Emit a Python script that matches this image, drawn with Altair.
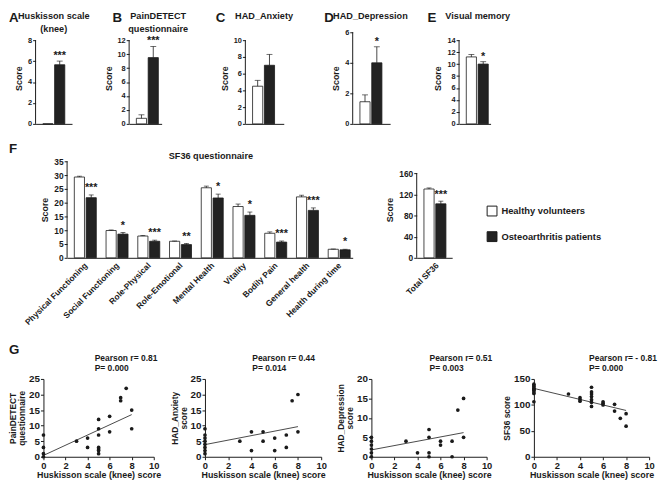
import altair as alt
import pandas as pd

FONT = "Liberation Sans"
INK = "#1a1a1a"
BAR_DARK = "#222222"

groups = ["Healthy volunteers", "Osteoarthritis patients"]
group_fills = ["#ffffff", BAR_DARK]

# ---------------- Panels A-E ----------------
top_letters = ["A", "B", "C", "D", "E"]
top_titles = ["Huskisson scale\n(knee)", "PainDETECT\nquestionnaire", "HAD_Anxiety", "HAD_Depression", "Visual memory"]
top_healthy = [0.0, 0.8, 4.5, 1.45, 11.2]
top_healthy_err = [0.0, 0.5, 0.7, 0.45, 0.4]
top_oa = [5.65, 9.5, 7.0, 4.0, 10.0]
top_oa_err = [0.35, 1.6, 1.3, 1.05, 0.4]
top_sig = ["***", "***", "", "*", "*"]
top_ymax = [8, 12, 10, 6, 14]
top_ystep = [2, 2, 2, 2, 2]

# ---------------- Panel F ----------------
sf36_domains = ["Physical Functioning", "Social Functioning", "Role-Physical", "Role-Emotional",
                "Mental Health", "Vitality", "Bodily Pain", "General health", "Health during time"]
sf36_healthy = [29.3, 9.9, 7.9, 6.0, 25.4, 18.6, 8.9, 22.1, 3.1]
sf36_healthy_err = [0.3, 0.2, 0.2, 0.1, 0.6, 0.9, 0.5, 0.6, 0.1]
sf36_oa = [21.8, 8.6, 6.0, 4.8, 21.7, 15.4, 5.7, 17.2, 2.9]
sf36_oa_err = [1.0, 0.6, 0.4, 0.4, 1.4, 1.2, 0.4, 0.9, 0.2]
sf36_sig = ["***", "*", "***", "**", "*", "*", "***", "***", "*"]

total_cat = ["Total SF36"]
total_healthy = [130]
total_healthy_err = [2]
total_oa = [102]
total_oa_err = [5]
total_sig = ["***"]

# ---------------- Panel G (scatter) ----------------
husk_pain = [0, 0, 0, 0, 3, 4, 4, 5, 5, 5, 5, 5, 5, 5, 6, 6, 7, 7, 7.5, 8, 8]
pain = [0, 1, 3, 7, 5, 6, 3, 12, 9, 7, 3, 2.5, 2, 1, 13, 8, 19, 18, 22, 15, 9]
husk_anx = [0, 0, 0, 0, 0, 0, 0, 0, 3, 4, 4, 5, 5, 6, 6, 7, 7, 7.5, 8, 8]
anx = [9, 7, 6, 5, 4, 3, 2, 1, 5, 8, 2, 8, 5, 6, 2, 7, 3, 18, 20, 8]
husk_dep = [0, 0, 0, 0, 0, 0, 3, 4, 5, 5, 5, 5, 6, 6, 7, 7, 7.5, 8, 8]
dep = [5, 4, 3, 2, 1, 0, 4, 1, 7, 5, 1, 0, 4, 3, 4, 0, 12, 15, 5]
husk_sf = [0, 0, 0, 0, 0, 0, 0, 0, 0, 3, 4, 4, 4, 5, 5, 5, 5, 5, 5, 5, 6, 6, 6, 7, 7, 7.5, 8, 8]
sf_score = [140, 137, 135, 132, 130, 128, 125, 122, 106, 121, 114, 110, 107,
            134, 125, 121, 116, 110, 105, 97, 106, 103, 100, 101, 88, 74, 83, 59]
pearson_notes = ["Pearson r= 0.81\nP= 0.000", "Pearson r= 0.44\nP= 0.014",
                 "Pearson r= 0.51\nP= 0.003", "Pearson r= - 0.81\nP= 0.000"]


def bar_table(cats, healthy, healthy_err, oa, oa_err, sig):
    rows = []
    for i, c in enumerate(cats):
        rows.append(dict(cat=c, group=groups[0], value=healthy[i], err=healthy_err[i],
                         hi=healthy[i] + healthy_err[i], sig=""))
        rows.append(dict(cat=c, group=groups[1], value=oa[i], err=oa_err[i],
                         hi=oa[i] + oa_err[i], sig=sig[i]))
    return pd.DataFrame(rows)


def ax(**kw):
    base = dict(grid=False, domainColor=INK, domainWidth=1, tickColor=INK, tickWidth=1,
                labelColor=INK, titleColor=INK, labelFont=FONT, titleFont=FONT,
                labelFontWeight="bold", titleFontWeight="bold", labelOverlap=False)
    base.update(kw)
    return alt.Axis(**base)


def note(text, x, y, size, align="left", baseline="top", line_height=None):
    kw = dict(align=align, baseline=baseline, font=FONT, fontSize=size, fontWeight="bold",
              color=INK, lineBreak="\n")
    if line_height:
        kw["lineHeight"] = line_height
    return alt.Chart(pd.DataFrame({"t": [text]})).mark_text(**kw).encode(
        x=alt.value(x), y=alt.value(y), text="t:N")


def spacer(w, h):
    return alt.Chart(pd.DataFrame({"s": [0]})).mark_point(opacity=0, size=1).encode(
        x=alt.value(w / 2), y=alt.value(h / 2)).properties(width=w, height=h)


def bar_layers(df, ymax, ystep, xaxis, yaxis_kw, width, plot_h, axis_h, bar_step, off_inner,
               cap, star_dy, legend=None):
    off_outer = max((width / bar_step - 2 + off_inner) / 2, 0)
    top = ymax * plot_h / axis_h
    x = alt.X("cat:N", sort=None, title=None, axis=xaxis,
              scale=alt.Scale(paddingInner=0, paddingOuter=0))
    xo = alt.XOffset("group:N", sort=groups,
                     scale=alt.Scale(domain=groups, paddingInner=off_inner, paddingOuter=off_outer))
    yaxis = ax(values=list(range(0, ymax + 1, ystep)), title="Score", domain=False, **yaxis_kw)

    def Y(field):
        return alt.Y(field, scale=alt.Scale(domain=[0, top], nice=False, zero=True), axis=yaxis)

    base = alt.Chart(df)
    bars = base.mark_bar(stroke=INK, strokeWidth=0.8).encode(
        x=x, xOffset=xo, y=Y("value:Q"),
        fill=alt.Fill("group:N", sort=groups, scale=alt.Scale(domain=groups, range=group_fills),
                      legend=legend))
    errs = base.transform_filter("datum.err > 0")
    rules = errs.mark_rule(color=INK, strokeWidth=0.8).encode(
        x=x, xOffset=xo, y=Y("value:Q"), y2="hi:Q")
    caps = errs.mark_tick(color=INK, thickness=0.9, size=cap).encode(
        x=x, xOffset=xo, y=Y("hi:Q"))
    stars = base.transform_filter("datum.sig != ''").mark_text(
        baseline="bottom", dy=star_dy, font=FONT, fontSize=11, fontWeight="bold", color=INK
    ).encode(x=x, xOffset=xo, y=Y("hi:Q"), text="sig:N")
    # y-axis line drawn only up to the last tick value
    yline = alt.Chart(pd.DataFrame({"s": [0]})).mark_rule(color=INK, strokeWidth=1).encode(
        x=alt.value(0), y=alt.datum(0, axis=yaxis), y2=alt.datum(ymax))
    return [bars, rules, caps, stars, yline]


def row(cells):
    return alt.hconcat(*cells, spacing=0, bounds="flush").resolve_scale(fill="independent")


# ---------- row 1 ----------
ROW1_H = 93
row1_width = [37, 33, 39, 38, 32]
row1_axis_h = [85, 85, 85, 93, 85]
row1_gap = [58, 85, 70, 70]
row1_letter_x = [-27, -17, -30, -29, -32]
row1_title_x = [18.5, 29.5, 19, 18, 19]

top_yaxis = dict(labelFontSize=7.5, titleFontSize=9, tickSize=3, labelPadding=1, titlePadding=4)
hidden_x = ax(labels=False, ticks=False, title=None)

row1 = []
for i in range(5):
    df = bar_table([top_letters[i]], [top_healthy[i]], [top_healthy_err[i]], [top_oa[i]],
                   [top_oa_err[i]], [top_sig[i]])
    layers = bar_layers(df, top_ymax[i], top_ystep[i], hidden_x, top_yaxis, row1_width[i],
                        ROW1_H, row1_axis_h[i], 12, 0.14, 6, 0)
    layers.append(note(top_letters[i], row1_letter_x[i], -21, 13.5))
    layers.append(note(top_titles[i], row1_title_x[i], -20, 9.3, align="center", line_height=12.5))
    row1.append(alt.layer(*layers).properties(width=row1_width[i], height=ROW1_H))
    if i < 4:
        row1.append(spacer(row1_gap[i], ROW1_H))

# ---------- row 2 ----------
ROW2_H = 98
cat_axis = ax(labelAngle=-45, labelFontSize=8.5, ticks=False, labelPadding=3, title=None)
mid_yaxis = dict(labelFontSize=8.5, titleFontSize=9, tickSize=3, labelPadding=1, titlePadding=4)

f_df = bar_table(sf36_domains, sf36_healthy, sf36_healthy_err, sf36_oa, sf36_oa_err, sf36_sig)
f_layers = bar_layers(f_df, 35, 5, cat_axis, mid_yaxis, 290 / 9, ROW2_H, 98, 10.5, 0.143, 5, -2)
f_layers.append(note("F", -59, -19.5, 13.5))
f_layers.append(note("SF36 questionnaire", 146, -2, 9.3, align="center", baseline="alphabetic"))
f_chart = alt.layer(*f_layers).properties(width=290, height=ROW2_H)

legend = alt.Legend(title=None, orient="none", legendX=71, legendY=45, direction="vertical",
                    symbolType="square", symbolSize=100, symbolStrokeColor=INK,
                    symbolStrokeWidth=1, labelFont=FONT, labelFontSize=9.5,
                    labelFontWeight="bold", labelColor=INK, rowPadding=11, labelOffset=4,
                    padding=0)
t_df = bar_table(total_cat, total_healthy, total_healthy_err, total_oa, total_oa_err, total_sig)
t_layers = bar_layers(t_df, 160, 40, cat_axis, mid_yaxis, 36, ROW2_H, 86, 12, 0.167, 5, -1,
                      legend=legend)
t_chart = alt.layer(*t_layers).properties(width=36, height=ROW2_H)

row2 = [spacer(32, ROW2_H), f_chart, spacer(65, ROW2_H), t_chart]

# ---------- row 3 ----------
ROW3_H = 79


def scatter(xs, ys, ymax, ystep, ytitle, width, note_text, note_x, letter_x=None):
    df = pd.DataFrame({"h": xs, "s": ys})
    X = alt.X("h:Q", scale=alt.Scale(domain=[0, 10], nice=False),
              axis=ax(values=[0, 2, 4, 6, 8, 10], title="Huskisson scale (knee) score",
                      labelFontSize=9.5, titleFontSize=9, tickSize=3, labelPadding=1,
                      titlePadding=1, labelFlush=False))
    Y = alt.Y("s:Q", scale=alt.Scale(domain=[0, ymax], nice=False),
              axis=ax(values=list(range(0, ymax + 1, ystep)), title=ytitle, labelFontSize=10,
                      titleFontSize=8.5, titleLineHeight=9, tickSize=3, labelPadding=1,
                      titlePadding=2, labelFlush=False))
    pts = alt.Chart(df).mark_circle(size=14, color=INK, opacity=1).encode(x=X, y=Y)
    fit = alt.Chart(df).transform_regression("h", "s", extent=[0, 8]).mark_line(
        color=INK, strokeWidth=0.8).encode(x=X, y=Y)
    layers = [fit, pts, note(note_text, note_x, -25, 8.6, line_height=10)]
    if letter_x is not None:
        layers.append(note("G", letter_x, -36.5, 13.5))
    return alt.layer(*layers).properties(width=width, height=ROW3_H)


row3 = [spacer(8, ROW3_H),
        scatter(husk_pain, pain, 25, 5, ["PainDETECT", "questionnaire"], 112, pearson_notes[0], 52, -35),
        spacer(52, ROW3_H),
        scatter(husk_anx, anx, 25, 5, ["HAD_Anxiety", "score"], 118, pearson_notes[1], 48),
        spacer(51, ROW3_H),
        scatter(husk_dep, dep, 20, 5, ["HAD_Depression", "score"], 117, pearson_notes[2], 59),
        spacer(48, ROW3_H),
        scatter(husk_sf, sf_score, 150, 50, "SF36 score", 117, pearson_notes[3], 56)]

chart = alt.vconcat(row(row1), spacer(1, 13.5), row(row2), spacer(1, 16), row(row3),
                    spacing=0, padding=0).resolve_scale(fill="independent").configure_view(stroke=None)

chart.save("out.html", embed_options={"renderer": "svg", "actions": False})
